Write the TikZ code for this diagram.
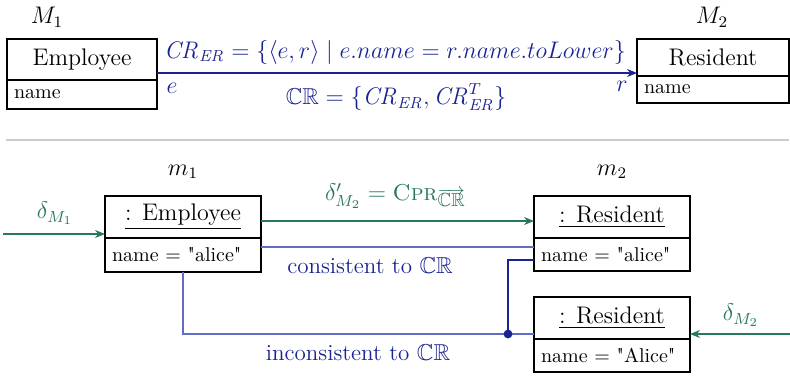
\documentclass[tikz,border=0pt]{standalone}
\usepackage{amssymb}
\usetikzlibrary{arrows.meta,calc}
\definecolor{dblue}{RGB}{25,35,145}
\definecolor{lblue}{RGB}{95,110,195}
\definecolor{dgreen}{RGB}{40,120,90}
\tikzset{
  hdr/.style={draw, line width=0.55pt, inner sep=0pt, outer sep=0pt, anchor=north west, font=\fontsize{12}{14}\selectfont},
  attr/.style={draw, line width=0.55pt, inner xsep=3.5pt, inner ysep=0pt, outer sep=0pt, anchor=north, align=left, font=\fontsize{10}{12}\selectfont},
  lbl/.style={font=\fontsize{11.5}{13}\selectfont},
  tip/.style={-{Stealth[length=5pt,width=4pt]}},
}
\newcommand{\qd}{\textquotedbl}
\begin{document}
\begin{tikzpicture}[x=0.5pt,y=-0.5pt]
\useasboundingbox (0,0) rectangle (790,376);
% ---------- top
\node[lbl] (M1) at (47,17) {$M_1$};
\node[lbl] (M2) at (712,17) {$M_2$};
\node[hdr, minimum width=75pt, minimum height=20.5pt] (emp) at (7,39) {Employee};
\node[attr, text width=68pt, minimum height=14.5pt] (empa) at (emp.south) {name};
\node[hdr, minimum width=76pt, minimum height=18.5pt] (res) at (637,39) {Resident};
\node[attr, text width=69pt, minimum height=13.5pt] (resa) at (res.south) {name};
\coordinate (ya) at (0,73);
\draw[dblue, line width=0.6pt, tip] (emp.east |- ya) -- (res.west |- ya);
\node[lbl, text=dblue] (cr) at (395,52) {$\mathit{CR}_{\mathit{ER}} = \{\langle e, r\rangle \mid e.name = r.name.toLower\}$};
\node[lbl, text=dblue] (ccr) at (396,97) {$\mathbb{C}\mathbb{R} = \{\mathit{CR}_{\mathit{ER}}, \mathit{CR}_{\mathit{ER}}^{T}\}$};
\node[lbl, text=dblue] (le) at (172,88) {$e$};
\node[lbl, text=dblue] (lr) at (622,86) {$r$};
\coordinate (s1) at (6,140);
\coordinate (s2) at (789,140);
\draw[black!20, line width=0.8pt] (s1) -- (s2);
% ---------- bottom
\node[lbl] (m1) at (183,172) {$m_1$};
\node[lbl] (m2) at (612,172) {$m_2$};
\node[hdr, minimum width=78pt, minimum height=21pt] (e1) at (105,196) {\underline{: Employee}};
\node[attr, text width=71pt, minimum height=17pt] (e1a) at (e1.south) {\mbox{name = \qd alice\qd}};
\node[hdr, minimum width=78pt, minimum height=21pt] (r1) at (534,196) {\underline{: Resident}};
\node[attr, text width=71pt, minimum height=16.5pt] (r1a) at (r1.south) {\mbox{name = \qd alice\qd}};
\node[hdr, minimum width=78pt, minimum height=21pt] (r2) at (534,297) {\underline{: Resident}};
\node[attr, text width=71pt, minimum height=16.5pt] (r2a) at (r2.south) {\mbox{name = \qd Alice\qd}};
% delta M1
\coordinate (d1s) at (3,234);
\draw[dgreen, line width=0.6pt, tip] (d1s) -- (e1.west |- d1s);
\node[lbl, text=dgreen] (ld1) at (55,213) {$\delta_{M_1}$};
% propagated
\coordinate (yg) at (0,221);
\draw[dgreen, line width=0.6pt, tip] (e1.east |- yg) -- (r1.west |- yg);
\node[lbl, text=dgreen] (ld2) at (395,196) {$\delta'_{M_2} = {}$\textsc{Cpr}\raisebox{-0.6ex}{\fontsize{9.5}{10}\selectfont$\overrightarrow{\mathbb{C}\mathbb{R}}$}};
% consistent
\coordinate (yc) at (0,247);
\draw[lblue, line width=0.6pt] (e1a.east |- yc) -- (r1a.west |- yc);
\node[lbl, text=dblue] (lc) at (370,266) {consistent to $\mathbb{C}\mathbb{R}$};
% inconsistent
\coordinate (yi) at (0,334);
\coordinate (xi) at (183,0);
\draw[lblue, line width=0.6pt] (e1a.south -| xi) |- (r2a.west |- yi);
\node[lbl, text=dblue] (li) at (358,353) {inconsistent to $\mathbb{C}\mathbb{R}$};
\coordinate (yd) at (0,260);
\coordinate (dot) at (508,334);
\draw[dblue, line width=0.6pt] (r1a.west |- yd) -| (dot);
\fill[dblue] (dot) circle (2.2pt);
% delta M2
\coordinate (d2s) at (790,334);
\draw[dgreen, line width=0.6pt, tip] (d2s) -- (r2a.east |- d2s);
\node[lbl, text=dgreen] (ld3) at (741,315) {$\delta_{M_2}$};
\end{tikzpicture}
\end{document}
